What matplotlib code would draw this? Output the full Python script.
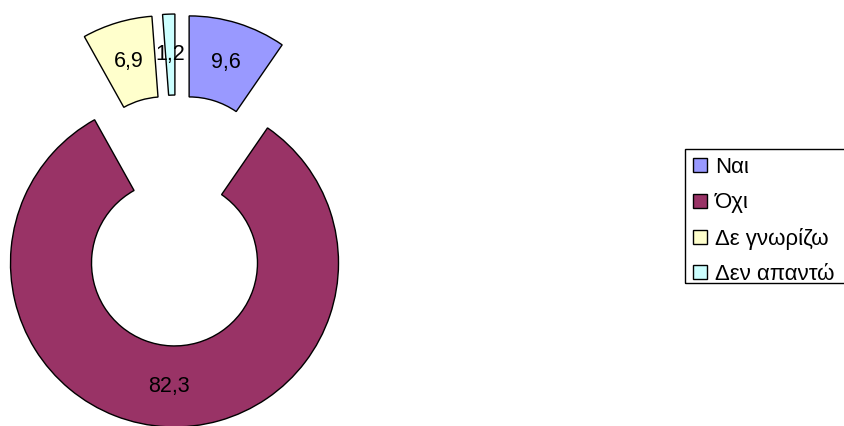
import matplotlib
matplotlib.use("Agg")
import matplotlib.pyplot as plt
from matplotlib.patches import Patch, Rectangle

categories = ["Ναι", "Όχι", "Δε γνωρίζω", "Δεν απαντώ"]
values = [9.6, 82.3, 6.9, 1.2]
colors = ["#9999FF", "#993366", "#FFFFCC", "#CCFFFF"]

plt.rcParams['font.family'] = ['Liberation Sans', 'DejaVu Sans']

W, H = 845, 426
fig = plt.figure(figsize=(W / 100, H / 100), dpi=100)
ax = fig.add_axes([0, 0, 1, 1])

R = 164
cx, cy = 176.5, H - 220.5
wedges, texts, autotexts = ax.pie(
    values,
    colors=colors,
    startangle=90,
    counterclock=False,
    explode=[42.5] * len(values),
    radius=R,
    center=(cx, cy),
    wedgeprops=dict(width=R * 0.494, edgecolor="black", linewidth=1.0),
    autopct=lambda p: f"{p:.1f}".replace(".", ","),
    pctdistance=0.753,
    textprops=dict(fontsize=15.5, color="black"),
)
for t in autotexts:
    t.set_horizontalalignment("center")
    t.set_verticalalignment("center")

ax.set_xlim(0, W)
ax.set_ylim(0, H)
ax.set_aspect("equal")
ax.axis("off")

handles = [Patch(facecolor=c, edgecolor="black", linewidth=1.0) for c in colors]
leg = ax.legend(
    handles, categories,
    loc="upper left",
    bbox_to_anchor=(685 / W, (H - 149) / H),
    bbox_transform=fig.transFigure,
    frameon=False,
    fontsize=16,
    handlelength=0.63, handleheight=0.6, handletextpad=0.36,
    labelspacing=0.64, borderpad=0.37, borderaxespad=0,
)

# legend frame (extends past the right edge, as in the reference)
ax.add_patch(Rectangle((685, H - 283), 200, 134, fill=False,
                       edgecolor="black", linewidth=1.0, clip_on=False))

fig.savefig("out.png", dpi=100)
